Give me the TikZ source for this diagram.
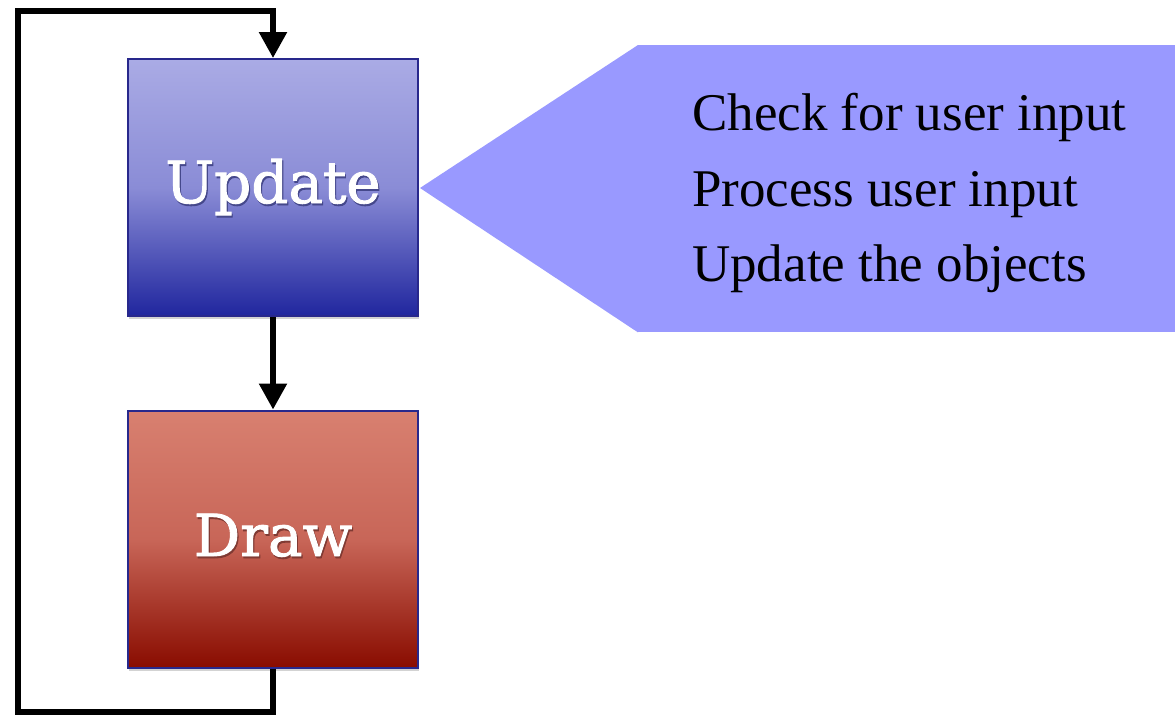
\documentclass[tikz,border=0pt]{standalone}
\usepackage{fontspec}
\setmainfont{Liberation Serif}
\newfontfamily\boxfont[FakeBold=1.6]{DejaVu Serif}
\usetikzlibrary{arrows.meta,shadows}
\definecolor{updtop}{RGB}{170,171,229}
\definecolor{updmid}{RGB}{138,140,214}
\definecolor{updbot}{RGB}{32,38,158}
\definecolor{drwtop}{RGB}{216,128,112}
\definecolor{drwmid}{RGB}{200,102,88}
\definecolor{drwbot}{RGB}{137,12,0}
\definecolor{boxedge}{RGB}{40,40,140}
\definecolor{callout}{RGB}{153,153,255}
% white title with a soft dark copy set slightly below and to the right
\newcommand{\shadedtitle}[2]{%
  \makebox[0pt][l]{\hspace{1.2pt}\raisebox{-2pt}{\textcolor{#2}{#1}}}#1}
\begin{document}
\begin{tikzpicture}[x=1pt,y=-1pt,
  stage/.style={draw=boxedge, line width=2pt, minimum width=290pt,
    minimum height=257pt, inner sep=0pt,
    drop shadow={shadow xshift=1pt, shadow yshift=-3pt, opacity=0.35}},
  flow/.style={line width=5.5pt, line join=miter,
    -{Triangle[length=26pt,width=27pt]}},
  lbl/.style={anchor=base, inner sep=0pt, text=white,
    font=\boxfont\fontsize{58}{60}\selectfont},
  notetext/.style={anchor=base west, inner sep=0pt,
    font=\fontsize{53}{60}\selectfont}]
\useasboundingbox (0,0) rectangle (1175,715);

% the two stages of the loop
\node[stage, top color=updtop, bottom color=updbot, middle color=updmid]
  (update) at (273,187.5) {};
\node[stage, top color=drwtop, bottom color=drwbot, middle color=drwmid]
  (draw) at (273,539) {};

% stage titles
\node[lbl] (updlbl) at (273,203) {\shadedtitle{Update}{updbot!70!black!80}};
\node[lbl] (drwlbl) at (273,556) {\shadedtitle{Draw}{drwbot!70!black!80}};

% connectors
\draw[flow] (update.south) -- (draw.north);
\coordinate (c1) at (273,712);
\coordinate (c2) at (18,712);
\coordinate (c3) at (18,11);
\coordinate (c4) at (273,11);
\draw[flow] (draw.south) -- (c1) -- (c2) -- (c3) -- (c4) -- (update.north);

% callout with the update steps
\node[fill=callout, minimum width=537pt, minimum height=287pt, inner sep=0pt,
  anchor=north west] (note) at (638,45) {};
\coordinate (tip) at (420,188);
\fill[callout] (tip) -- (note.north west) -- (note.south west) -- cycle;
\node[notetext] (l1) at (692,130) {Check for user input};
\node[notetext] (l2) at (692,206) {Process user input};
\node[notetext] (l3) at (692,281) {Update the objects};
\end{tikzpicture}
\end{document}
